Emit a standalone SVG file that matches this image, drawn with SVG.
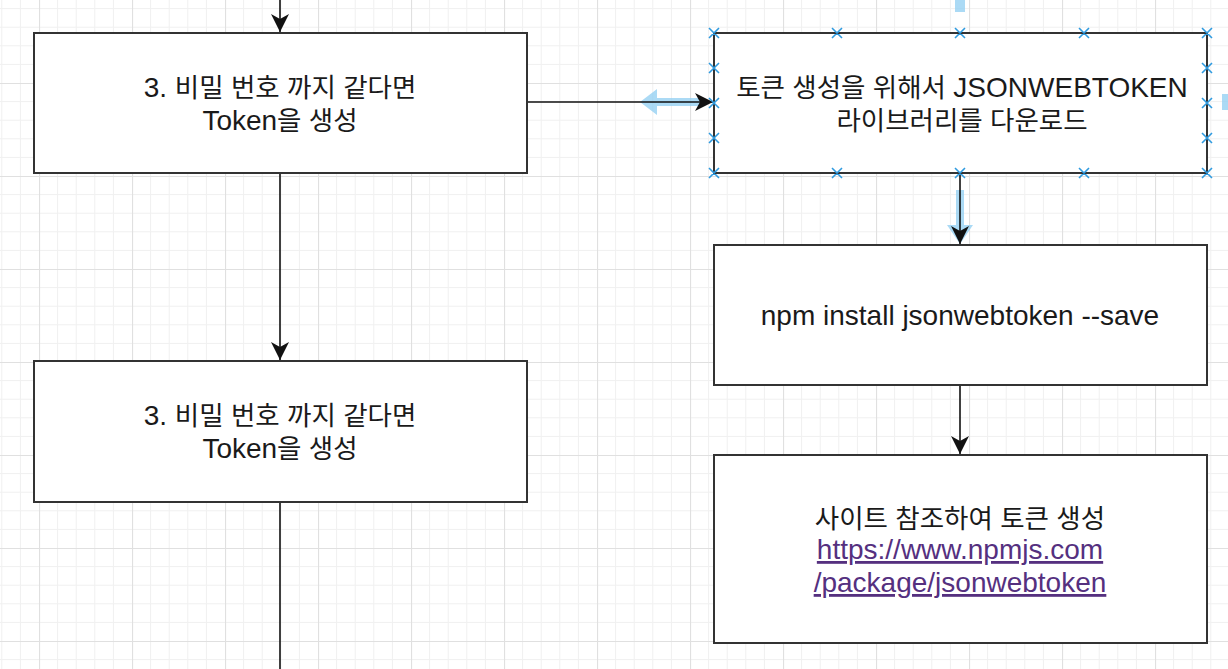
<svg xmlns="http://www.w3.org/2000/svg" width="1228" height="669" viewBox="0 0 1228 669">
<style>
.box{fill:#fff;stroke:#333;stroke-width:2}
.t{font-family:"Liberation Sans","Noto Sans CJK KR",sans-serif;font-size:28px;fill:#1a1a1a;text-anchor:middle}
.k{font-size:26.5px}
.link{fill:#55307f;text-decoration:underline}
.edge{stroke:#111;stroke-width:1.6;fill:none}
.h{stroke:#2f9be0;stroke-width:1.6;fill:none}
.hover{fill:#8fcdf2;opacity:0.75}
</style>
<defs>
<pattern id="grid" patternUnits="userSpaceOnUse" x="39" y="83" width="93" height="93">
<path d="M18.6 0V93M37.2 0V93M55.8 0V93M74.4 0V93M0 18.6H93M0 37.2H93M0 55.8H93M0 74.4H93" stroke="#f0f0f0" stroke-width="1"/>
<path d="M0.5 0V93M0 0.5H93" stroke="#e0e0e0" stroke-width="1.2"/>
</pattern>
<marker id="arr" markerUnits="userSpaceOnUse" markerWidth="18" markerHeight="18" refX="18" refY="9" orient="auto">
<path d="M0,0 L18,9 L0,18 L5,9 Z" fill="#111"/>
</marker>
</defs>
<rect width="1228" height="669" fill="#fff"/>
<rect width="1228" height="669" fill="url(#grid)"/>

<g id="hover-hints">
<rect class="hover" x="955" y="0" width="10" height="12"/>
<path class="hover" d="M640,102 L657,89 L657,98 L700,98 L700,106 L657,106 L657,115 Z"/>
<path class="hover" d="M956,190 L964,190 L964,225 L973,225 L960,244 L947,225 L956,225 Z"/>
<rect class="hover" x="1222" y="94" width="6" height="16"/>
</g>

<g id="connectors">
<path class="edge" d="M280,0 V32" marker-end="url(#arr)"/>
<path class="edge" d="M280,174 V360" marker-end="url(#arr)"/>
<path class="edge" d="M280,503 V669"/>
<path class="edge" d="M528,102 H713" marker-end="url(#arr)"/>
<path class="edge" d="M960,174 V244" marker-end="url(#arr)"/>
<path class="edge" d="M960,386 V454" marker-end="url(#arr)"/>
</g>

<g id="node-token1">
<rect class="box" x="34" y="33" width="493" height="140"/>
<text class="t" x="280" y="97"><tspan>3. </tspan><tspan class="k">비밀 번호 까지 같다면</tspan></text>
<text class="t" x="280" y="130"><tspan>Token</tspan><tspan class="k">을 생성</tspan></text>
</g>

<g id="node-token2">
<rect class="box" x="34" y="361" width="493" height="141"/>
<text class="t" x="280" y="425"><tspan>3. </tspan><tspan class="k">비밀 번호 까지 같다면</tspan></text>
<text class="t" x="280" y="458"><tspan>Token</tspan><tspan class="k">을 생성</tspan></text>
</g>

<g id="node-download">
<rect class="box" x="714" y="33" width="493" height="140"/>
<text class="t" x="962" y="97"><tspan class="k">토큰 생성을 위해서 </tspan><tspan>JSONWEBTOKEN</tspan></text>
<text class="t" x="962" y="130"><tspan class="k">라이브러리를 다운로드</tspan></text>
<g id="selection-handles" class="h">
<path d="M709,28l10,10m0,-10l-10,10M832,28l10,10m0,-10l-10,10M955,28l10,10m0,-10l-10,10M1079,28l10,10m0,-10l-10,10M1202,28l10,10m0,-10l-10,10"/>
<path d="M709,168l10,10m0,-10l-10,10M832,168l10,10m0,-10l-10,10M955,168l10,10m0,-10l-10,10M1079,168l10,10m0,-10l-10,10M1202,168l10,10m0,-10l-10,10"/>
<path d="M709,63l10,10m0,-10l-10,10M709,98l10,10m0,-10l-10,10M709,133l10,10m0,-10l-10,10"/>
<path d="M1202,63l10,10m0,-10l-10,10M1202,98l10,10m0,-10l-10,10M1202,133l10,10m0,-10l-10,10"/>
</g>
</g>

<g id="node-npm">
<rect class="box" x="714" y="245" width="493" height="140"/>
<text class="t" x="960" y="325">npm install jsonwebtoken --save</text>
</g>

<g id="node-site">
<rect class="box" x="714" y="455" width="493" height="188"/>
<text class="t" x="960" y="528"><tspan class="k">사이트 참조하여 토큰 생성</tspan></text>
<text class="t link" x="960" y="559">https://www.npmjs.com</text>
<text class="t link" x="960" y="592">/package/jsonwebtoken</text>
</g>
</svg>
